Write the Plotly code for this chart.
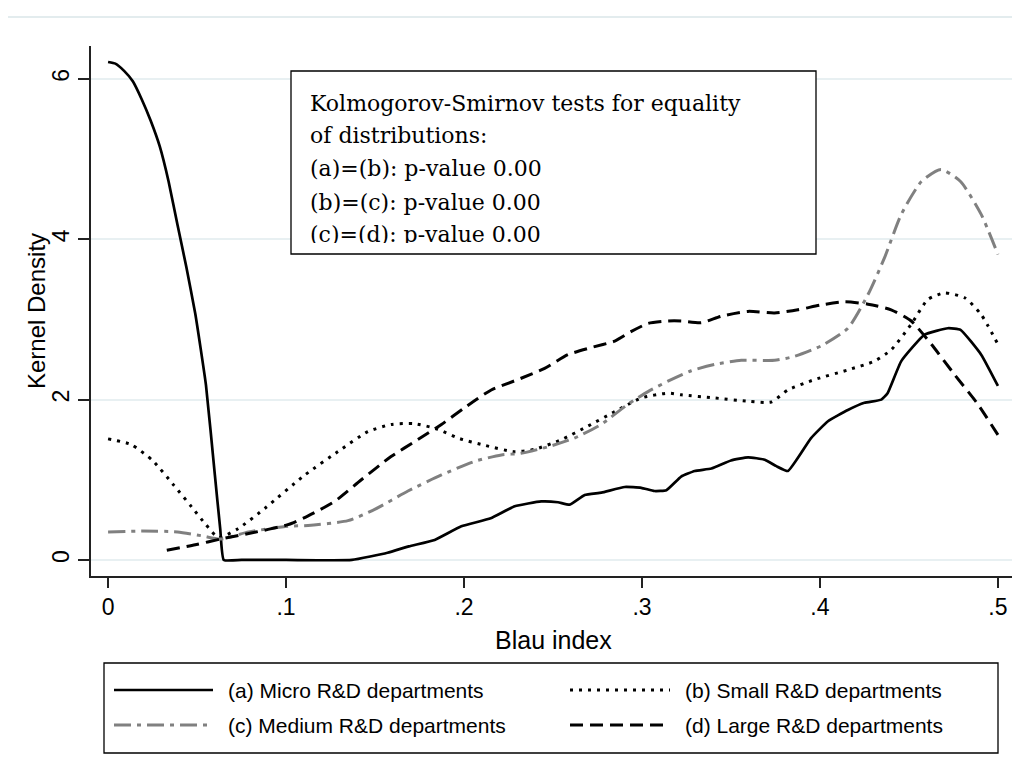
import plotly.graph_objects as go

# ---------------- data ----------------
micro_x = [0.0, 0.0041, 0.009, 0.0139, 0.019, 0.0239, 0.029, 0.034, 0.039, 0.044, 0.049, 0.055,
           0.060, 0.063, 0.065, 0.075, 0.10, 0.137,
           0.157, 0.169, 0.1835, 0.1985, 0.215, 0.2285, 0.2434, 0.2528, 0.2594, 0.2678, 0.2772,
           0.2903, 0.2996, 0.307, 0.3137, 0.322, 0.3296, 0.339, 0.350, 0.3596, 0.369, 0.3755,
           0.382, 0.395, 0.4045, 0.4157, 0.425, 0.4345, 0.438, 0.4457, 0.4588, 0.4719, 0.479,
           0.4906, 0.5]
micro_y = [6.21, 6.19, 6.10, 5.97, 5.74, 5.48, 5.16, 4.72, 4.18, 3.65, 3.07, 2.18,
           1.06, 0.39, 0.0, 0.0, 0.0, 0.0,
           0.09, 0.17, 0.25, 0.42, 0.52, 0.67, 0.73, 0.72, 0.69, 0.81, 0.84,
           0.91, 0.90, 0.86, 0.87, 1.04, 1.11, 1.14, 1.24, 1.28, 1.25, 1.17,
           1.11, 1.52, 1.73, 1.87, 1.96, 2.00, 2.08, 2.48, 2.81, 2.89, 2.87,
           2.56, 2.17]

small_x = [0.0, 0.0129, 0.025, 0.037, 0.047, 0.055, 0.062, 0.073, 0.089, 0.11, 0.131, 0.146,
           0.159, 0.172, 0.1854, 0.1966, 0.2116, 0.2285, 0.2397, 0.2547, 0.2697, 0.2847, 0.2996,
           0.3146, 0.322, 0.341, 0.3596, 0.3726, 0.382, 0.397, 0.4157, 0.4307, 0.440, 0.4513,
           0.4607, 0.470, 0.4813, 0.4906, 0.5]
small_y = [1.51, 1.44, 1.24, 0.93, 0.66, 0.44, 0.28, 0.39, 0.66, 1.05, 1.38, 1.60,
           1.69, 1.70, 1.63, 1.52, 1.43, 1.35, 1.38, 1.50, 1.67, 1.85, 2.02,
           2.08, 2.06, 2.02, 1.98, 1.97, 2.12, 2.25, 2.37, 2.48, 2.62, 2.94,
           3.25, 3.33, 3.27, 3.06, 2.69]

medium_x = [0.0, 0.0189, 0.039, 0.053, 0.063, 0.079, 0.1012, 0.1124, 0.1348, 0.1498, 0.1685,
            0.1873, 0.206, 0.221, 0.232, 0.247, 0.262, 0.277, 0.292, 0.3034, 0.3146, 0.3277,
            0.341, 0.3558, 0.3745, 0.3858, 0.4007, 0.4157, 0.427, 0.4363, 0.4457, 0.457,
            0.468, 0.479, 0.4906, 0.5]
medium_y = [0.35, 0.36, 0.35, 0.30, 0.26, 0.35, 0.42, 0.43, 0.49, 0.63, 0.86,
            1.06, 1.23, 1.31, 1.33, 1.41, 1.52, 1.69, 1.94, 2.10, 2.23, 2.36,
            2.44, 2.49, 2.49, 2.54, 2.67, 2.89, 3.31, 3.77, 4.31, 4.72,
            4.87, 4.72, 4.31, 3.81]

large_x = [0.033, 0.049, 0.063, 0.079, 0.101, 0.1124, 0.1273, 0.1423, 0.159, 0.174, 0.1873,
           0.2004, 0.2153, 0.2303, 0.2453, 0.2584, 0.2715, 0.2847, 0.294, 0.3034, 0.3146,
           0.322, 0.3333, 0.3446, 0.3596, 0.3745, 0.3876, 0.4007, 0.4139, 0.427, 0.440,
           0.4513, 0.4626, 0.4757, 0.4888, 0.5]
large_y = [0.12, 0.19, 0.26, 0.33, 0.44, 0.55, 0.73, 1.00, 1.29, 1.50, 1.69,
           1.90, 2.12, 2.25, 2.39, 2.56, 2.65, 2.73, 2.85, 2.95, 2.98,
           2.98, 2.96, 3.04, 3.10, 3.08, 3.12, 3.18, 3.22, 3.19, 3.12,
           2.98, 2.69, 2.31, 1.94, 1.56]

series_names = ["(a) Micro R&D departments", "(b) Small R&D departments",
                "(c) Medium R&D departments", "(d) Large R&D departments"]

x_tickvals = [0, 0.1, 0.2, 0.3, 0.4, 0.5]
x_ticktext = ["0", ".1", ".2", ".3", ".4", ".5"]
y_tickvals = [0, 2, 4, 6]
y_ticktext = ["0", "2", "4", "6"]

ks_lines = ["Kolmogorov-Smirnov tests for equality",
            "of distributions:",
            "(a)=(b): p-value 0.00",
            "(b)=(c): p-value 0.00",
            "(c)=(d): p-value 0.00"]

# ---------------- styles ----------------
GREY = "#808080"
styles = [
    dict(color="black", width=2.7, dash="solid"),
    dict(color="black", width=3, dash="3px,6px"),
    dict(color=GREY, width=3, dash="17px,6px,4px,6px"),
    dict(color="black", width=3, dash="13px,7px"),
]
smooth = [0.4, 0.6, 0.6, 0.6]

SANS = "Liberation Sans, Arial, sans-serif"
SERIF = "DejaVu Serif, serif"

fig = go.Figure()
for (xs, ys), name, st, sm in zip([(micro_x, micro_y), (small_x, small_y),
                                   (medium_x, medium_y), (large_x, large_y)],
                                  series_names, styles, smooth):
    fig.add_trace(go.Scatter(x=xs, y=ys, mode="lines", name=name,
                             line=dict(st, shape="spline", smoothing=sm),
                             showlegend=False))

# plot area in pixels
L, R, T, B = 83, 1007, 38, 568
W, H = 1020, 769
PW, PH = R - L, B - T


def px(x):
    return (x - L) / PW


def py(y):
    return (B - y) / PH


fig.update_layout(
    width=W, height=H, autosize=False,
    margin=dict(l=L, r=W - R, t=T, b=H - B),
    paper_bgcolor="white", plot_bgcolor="white",
    font=dict(family=SANS, color="black"),
    xaxis=dict(range=[-0.0096, 0.5096], tickvals=x_tickvals, ticktext=x_ticktext,
               showgrid=False, zeroline=False, showline=True, linecolor="#222",
               linewidth=1.5, ticks="outside", ticklen=10, tickwidth=1.5, tickcolor="#222",
               tickfont=dict(size=23, family=SANS), fixedrange=True),
    yaxis=dict(range=[-0.2, 6.41], tickvals=y_tickvals, ticktext=y_ticktext,
               showgrid=True, gridcolor="#E8F0F2", gridwidth=1.5, zeroline=False,
               showline=True, linecolor="#222", linewidth=1.5, ticks="outside",
               ticklen=11, tickwidth=1.5, tickcolor="#222", tickangle=-90,
               tickfont=dict(size=23, family=SANS), fixedrange=True),
)

shapes = []
annotations = []

# axis titles
annotations.append(dict(text="Blau index", xref="paper", yref="paper", x=0.5, y=py(632),
                        xanchor="center", yanchor="middle", showarrow=False,
                        font=dict(size=25, family=SANS)))
annotations.append(dict(text="Kernel Density", xref="paper", yref="paper", x=px(28),
                        y=py(303), xanchor="center", yanchor="middle", textangle=-90,
                        showarrow=False, font=dict(size=24, family=SANS)))

# top thin line of the graph region
shapes.append(dict(type="line", xref="paper", yref="paper", x0=px(0), x1=px(W),
                   y0=py(9), y1=py(9), line=dict(color="#E3ECEE", width=2)))

# K-S text box
shapes.append(dict(type="rect", xref="paper", yref="paper", x0=px(283), x1=px(808),
                   y0=py(246), y1=py(63), line=dict(color="black", width=1.3),
                   fillcolor="white", layer="above"))
for line_text, ypix in zip(ks_lines, [96, 128, 161, 194, 226]):
    annotations.append(dict(text=line_text, xref="paper", yref="paper", x=px(300),
                            y=py(ypix), xanchor="left", yanchor="middle", showarrow=False,
                            font=dict(size=22, family=SERIF, color="black")))
# the last line is clipped by the box in the reference: white band over its descenders
annotations.append(dict(text=" ", xref="paper", yref="paper", x=px(285), y=py(235),
                        xanchor="left", yanchor="top", showarrow=False, width=520,
                        height=10, bgcolor="white", borderpad=0, borderwidth=0))

# legend (drawn manually for Stata-like long keys)
shapes.append(dict(type="rect", xref="paper", yref="paper", x0=px(96), x1=px(990),
                   y0=py(745), y1=py(655), line=dict(color="black", width=1.3)))
leg_pos = [(106, 205, 218, 682), (562, 662, 675, 682), (106, 205, 218, 717),
           (562, 662, 675, 717)]
for name, st, (lx0, lx1, tx, ly) in zip(series_names, styles, leg_pos):
    shapes.append(dict(type="line", xref="paper", yref="paper", x0=px(lx0), x1=px(lx1),
                       y0=py(ly), y1=py(ly),
                       line=dict(color=st["color"], width=st["width"], dash=st["dash"])))
    annotations.append(dict(text=name, xref="paper", yref="paper", x=px(tx), y=py(ly),
                            xanchor="left", yanchor="middle", showarrow=False,
                            font=dict(size=21, family=SANS)))

fig.update_layout(shapes=shapes, annotations=annotations)

fig.write_html("out.html")
